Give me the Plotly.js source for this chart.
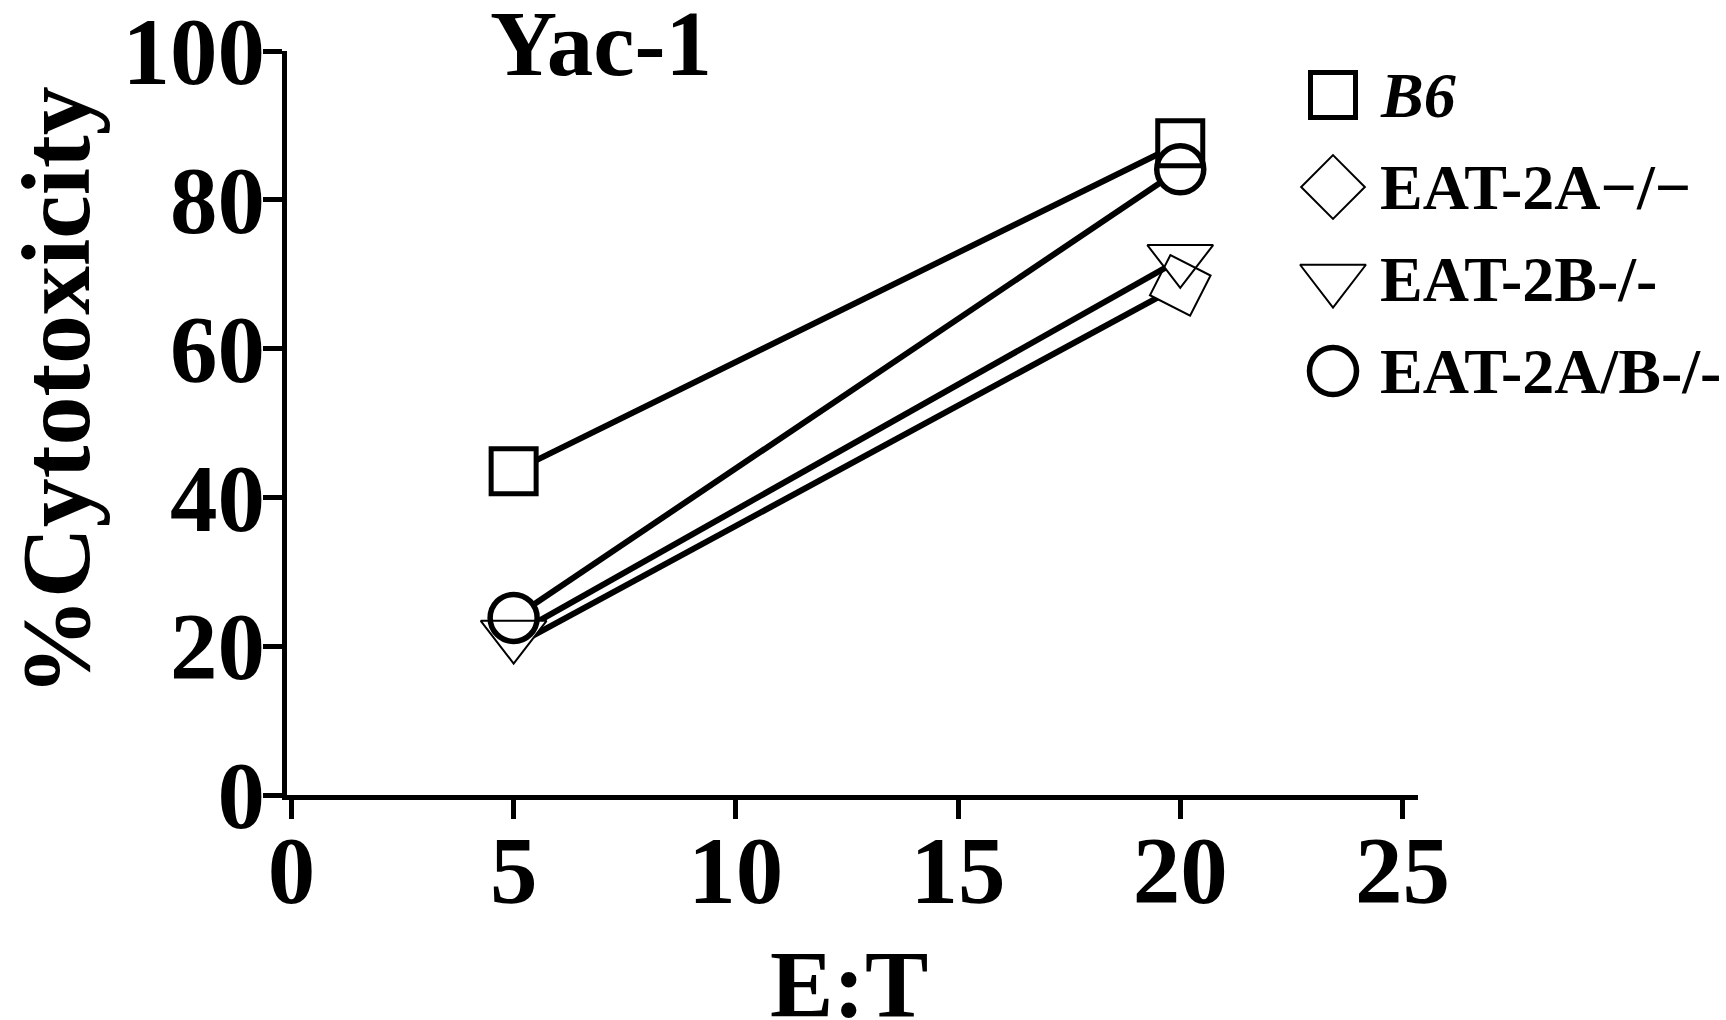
<!DOCTYPE html>
<html>
<head>
<meta charset="utf-8">
<script src="https://cdn.plot.ly/plotly-3.0.1.min.js"></script>
<style>html,body{margin:0;padding:0;background:#fff;}#chart{width:1726px;height:1020px;}</style>
</head>
<body>
<div id="chart"></div>
<script>
// ---- data ----
const etRatio = [5, 20];
const seriesNames = ['<i>B6</i>', 'EAT-2A\u2212/\u2212', 'EAT-2B-/-', 'EAT-2A/B-/-'];
const b6 = [43.5, 87.6];
const eat2a = [20, 68.5];
const eat2b = [21.5, 72];
const eat2ab = [23.8, 84.1];
const xTickVals = [0, 5, 10, 15, 20, 25];
const yTickVals = [0, 20, 40, 60, 80, 100];
const titleText = 'Yac-1';
const xTitle = 'E:T';
const yTitle = '%Cytotoxicity';

// ---- styles ----
const W = 1726, H = 1020;
const FONT = 'Liberation Serif';
const seriesValues = [b6, eat2a, eat2b, eat2ab];
const symbols = ['square', 'diamond', 'triangle-down', 'circle'];
const sizes = [45, 49, 57, 47];
const strokeW = [5, 2, 2, 5.5];
const opacities = [[1, 1], [0, 1], [1, 1], [1, 1]];
const angles = [[0, 0], [0, -18], [0, 0], [0, 0]];

const traces = [];
// layer 1: lines + white masks
seriesValues.forEach((vals, i) => {
  traces.push({
    x: etRatio, y: vals, type: 'scatter', mode: 'lines+markers',
    line: {color: 'black', width: 6},
    marker: {symbol: symbols[i], size: sizes[i], color: 'white', opacity: opacities[i], angle: angles[i], line: {width: 0, color: 'white'}},
    showlegend: false, hoverinfo: 'skip', xaxis: 'x', yaxis: 'y'
  });
});
// layer 2: outlines
seriesValues.forEach((vals, i) => {
  traces.push({
    x: etRatio, y: vals, type: 'scatter', mode: 'markers',
    marker: {symbol: symbols[i], size: sizes[i], color: 'rgba(0,0,0,0)', opacity: opacities[i], angle: angles[i], line: {width: strokeW[i], color: 'black'}},
    showlegend: false, hoverinfo: 'skip', xaxis: 'x', yaxis: 'y'
  });
});
// custom legend (large symbols)
const legendMarkerX = 1333, legendTextX = 1378;
const annotations = [];
seriesNames.forEach((name, i) => {
  traces.push({
    x: [legendMarkerX], y: [i], type: 'scatter', mode: 'markers',
    marker: {symbol: symbols[i], size: sizes[i], color: 'rgba(0,0,0,0)', line: {width: strokeW[i], color: 'black'}},
    showlegend: false, hoverinfo: 'skip', xaxis: 'x2', yaxis: 'y2'
  });
  annotations.push({
    text: name, x: legendTextX, y: i, xref: 'x2', yref: 'y2',
    xanchor: 'left', yanchor: 'middle', showarrow: false,
    font: {family: FONT, size: 64, weight: 'bold', color: 'black'}
  });
});
annotations.push({
  text: yTitle, textangle: -90, x: 56 / W, y: 1 - 391 / H, xref: 'paper', yref: 'paper',
  xanchor: 'center', yanchor: 'middle', showarrow: false,
  font: {family: FONT, size: 98, weight: 'bold', color: 'black'}
});
annotations.push({
  text: xTitle, x: 849 / W, y: 1 - 985 / H, xref: 'paper', yref: 'paper',
  xanchor: 'center', yanchor: 'middle', showarrow: false,
  font: {family: FONT, size: 95, weight: 'bold', color: 'black'}
});

const axisCommon = {
  showgrid: false, zeroline: false, showline: true, linecolor: 'black', linewidth: 5,
  ticks: 'outside', ticklen: 19, tickwidth: 5, tickcolor: 'black',
  tickfont: {family: FONT, size: 95, weight: 'bold', color: 'black'},
  ticklabeloverflow: 'allow',
  fixedrange: true
};

const layout = {
  width: W, height: H,
  margin: {l: 0, r: 0, t: 0, b: 0},
  paper_bgcolor: 'white', plot_bgcolor: 'white',
  showlegend: false,
  title: {text: titleText, x: 601 / W, xanchor: 'center', xref: 'paper', y: 1 - 42 / H, yanchor: 'middle', yref: 'container',
          font: {family: FONT, size: 93, weight: 'bold', color: 'black'}},
  xaxis: Object.assign({}, axisCommon, {domain: [287 / W, 1418 / W], range: [-0.1, 25.35], tickmode: 'array', tickvals: xTickVals, anchor: 'y', ticklabelstandoff: -30}),
  yaxis: Object.assign({}, axisCommon, {domain: [1 - 795 / H, 1 - 51 / H], range: [0, 100], tickmode: 'array', tickvals: yTickVals, anchor: 'x', ticklabelstandoff: -21}),
  xaxis2: {domain: [1290 / W, 1], range: [1290, 1726], visible: false, fixedrange: true, anchor: 'y2'},
  yaxis2: {domain: [1 - 417 / H, 1 - 49 / H], range: [3.5, -0.5], visible: false, fixedrange: true, anchor: 'x2'},
  annotations: annotations
};

Plotly.newPlot('chart', traces, layout, {staticPlot: true, displayModeBar: false});
</script>
</body>
</html>
